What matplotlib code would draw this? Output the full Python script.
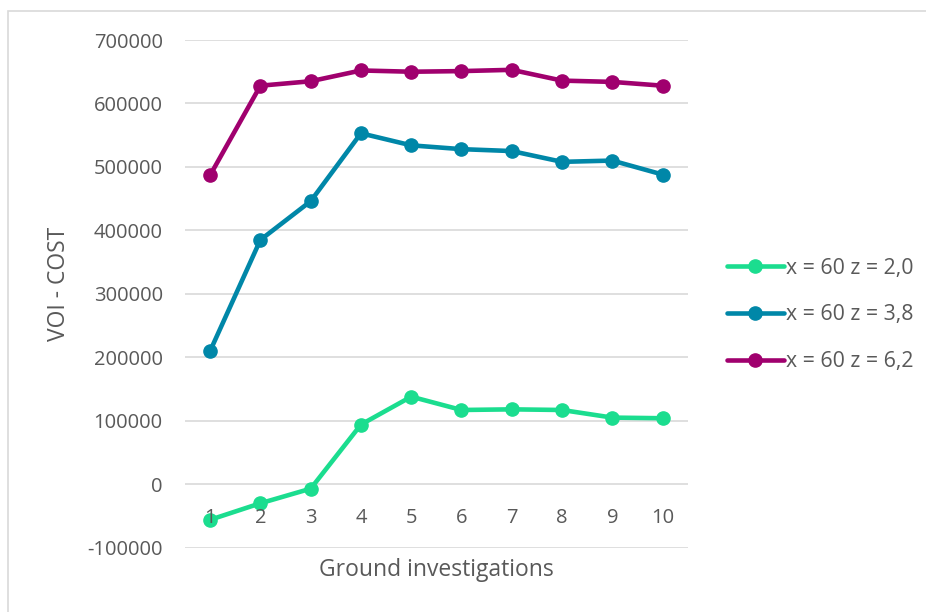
import matplotlib
matplotlib.use('Agg')
from matplotlib import pyplot
from matplotlib.patches import Rectangle

pyplot.rcParams['font.family'] = ['Open Sans', 'DejaVu Sans']

investigations = [1, 2, 3, 4, 5, 6, 7, 8, 9, 10]
voi_z20 = [-56000, -30000, -7000, 94000, 138000, 117000, 118000, 117000, 105000, 104000]
voi_z38 = [210000, 385000, 446000, 553000, 534000, 528000, 525000, 508000, 510000, 488000]
voi_z62 = [487000, 628000, 635000, 652000, 650000, 651000, 653000, 636000, 634000, 628000]
labels = ['x = 60 z = 2,0', 'x = 60 z = 3,8', 'x = 60 z = 6,2']
colors = ['#1BDD8F', '#0087A8', '#A0006E']
yticks = [-100000, 0, 100000, 200000, 300000, 400000, 500000, 600000, 700000]

text_color = '#595959'

fig = pyplot.figure(figsize=(9.26, 6.12), dpi=100)
fig.patches.append(Rectangle((8 / 926, -0.1), 1.2, (612 - 11) / 612 + 0.1,
                             transform=fig.transFigure, fill=False,
                             edgecolor='#D9D9D9', linewidth=1.2))

ax = fig.add_axes([185 / 926, 64.3 / 612, 502.7 / 926, 507.7 / 612])

for series, label, color in zip([voi_z20, voi_z38, voi_z62], labels, colors):
    ax.plot(investigations, series, '-o', color=color, linewidth=3.3,
            markersize=9.5, label=label, solid_capstyle='round', zorder=3)

ax.set_xlim(0.5, 10.5)
ax.set_ylim(-100000, 700000)
ax.set_yticks(yticks)
ax.set_yticklabels([str(t) for t in yticks])
ax.set_xticks(investigations)
ax.grid(axis='y', color='#D9D9D9', linewidth=1.2)
ax.set_axisbelow(True)
# category labels are drawn over the lines
ax.xaxis.set_zorder(5)

for side in ['left', 'right', 'top']:
    ax.spines[side].set_visible(False)
# category labels sit next to the zero line
ax.spines['bottom'].set_position(('data', 0))
ax.spines['bottom'].set_visible(False)

ax.tick_params(axis='y', length=0, pad=16, labelsize=14.5, labelcolor=text_color)
ax.tick_params(axis='x', length=0, pad=17, labelsize=14.5, labelcolor=text_color)

fig.text(59 / 926, 1 - 284 / 612, 'VOI - COST', rotation=90, ha='center',
         va='center', fontsize=16.5, color=text_color)
fig.text(436 / 926, 1 - 570 / 612, 'Ground investigations', ha='center',
         va='center', fontsize=16.5, color=text_color)

leg = ax.legend(loc='center left', bbox_to_anchor=(716 / 926, 1 - 315 / 612),
                bbox_transform=fig.transFigure, frameon=False, fontsize=15.3,
                handlelength=2.7, handletextpad=0.1, labelspacing=1.22,
                borderpad=0)
for text in leg.get_texts():
    text.set_color(text_color)

fig.savefig('out.png', dpi=100, facecolor='white')
